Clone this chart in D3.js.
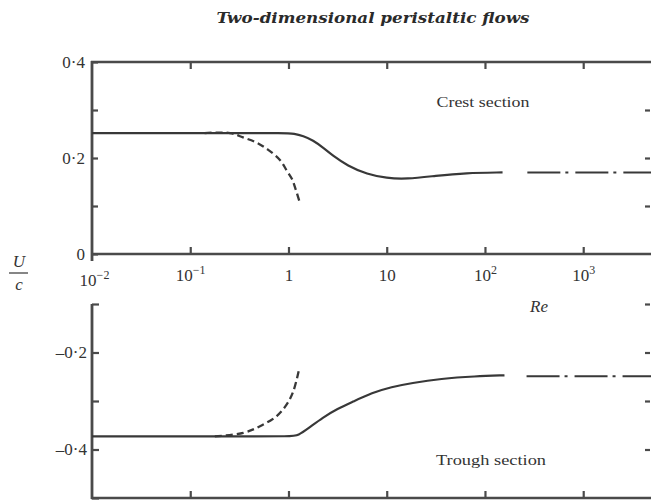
<!DOCTYPE html>
<html>
<head>
<meta charset="utf-8">
<script src="https://cdn.jsdelivr.net/npm/d3@7"></script>
<style>
  html, body { margin: 0; padding: 0; background: #fff; }
  svg { display: block; }
</style>
</head>
<body>
<svg id="chart" width="651" height="501"></svg>
<script>
// Mean velocity U/c against Reynolds number, crest and trough sections.

// Crest section: full solution (solid), low-Re expansion (dashed), high-Re limit (dash-dot)
const crestRe = [0.01, 0.3, 0.9, 1.15, 1.41, 1.78, 2.24, 2.82, 3.98, 6.31, 10.0, 15.8, 31.6, 63.1, 151];
const crestU  = [0.252, 0.252, 0.252, 0.251, 0.246, 0.237, 0.222, 0.205, 0.184, 0.166, 0.158, 0.156, 0.163, 0.169, 0.170];
const crestSmallRe = [0.14, 0.254, 0.344, 0.474, 0.622, 0.818, 0.959, 1.086, 1.191, 1.309];
const crestSmallU  = [0.252, 0.252, 0.243, 0.232, 0.217, 0.196, 0.174, 0.156, 0.133, 0.106];
const crestLimitRe = [270, 4900];
const crestLimitU  = [0.170, 0.170];

// Trough section
const troughRe = [0.01, 0.3, 1.1, 1.25, 1.58, 2.24, 3.16, 4.47, 7.08, 11.2, 17.8, 35.5, 79.4, 158];
const troughU  = [-0.373, -0.373, -0.373, -0.371, -0.357, -0.334, -0.316, -0.302, -0.283, -0.271, -0.263, -0.254, -0.249, -0.247];
const troughSmallRe = [0.178, 0.347, 0.513, 0.759, 0.959, 1.12, 1.29];
const troughSmallU  = [-0.373, -0.3656, -0.352, -0.331, -0.307, -0.280, -0.232];
const troughLimitRe = [265, 4900];
const troughLimitU  = [-0.249, -0.249];

// Axis ticks
const reTicks = [0.01, 0.1, 1, 10, 100, 1000];
const reTickLabels = [["10", "−2"], ["10", "−1"], ["1", ""], ["10", ""], ["10", "2"], ["10", "3"]];
const crestTicks = [0, 0.1, 0.2, 0.3, 0.4];
const crestTickLabels = ["0", "", "0·2", "", "0·4"];
const troughTicks = [-0.5, -0.4, -0.3, -0.2, -0.1];
const troughTickLabels = ["", "–0·4", "", "–0·2", ""];

const svg = d3.select("#chart");
const INK = "#383838";
const AXIS = "#4a4a4a";
const SERIF = "'Liberation Serif', 'Times New Roman', serif";

const x = d3.scaleLog().domain([0.01, Math.pow(10, 3.69)]).range([92, 651]);
const yTop = d3.scaleLinear().domain([0, 0.4]).range([254, 62]);
const yBot = d3.scaleLinear().domain([-0.5, -0.1]).range([498, 304]);

const clip = svg.append("defs").append("clipPath").attr("id", "plotclip");
clip.append("rect").attr("x", 92).attr("y", 40).attr("width", 560).attr("height", 470);

// Title
svg.append("text")
  .attr("x", 373).attr("y", 23)
  .attr("text-anchor", "middle")
  .attr("font-family", "'DejaVu Serif', serif")
  .attr("font-style", "italic").attr("font-weight", "bold")
  .attr("font-size", 15)
  .attr("textLength", 313).attr("lengthAdjust", "spacingAndGlyphs")
  .attr("fill", "#2a2a2a")
  .text("Two-dimensional peristaltic flows");

function styleAxis(g) {
  g.attr("font-family", SERIF);
  g.select(".domain").remove();
  g.selectAll(".tick line").attr("stroke", AXIS).attr("stroke-width", 2.2);
  g.selectAll(".tick text").attr("font-family", SERIF).attr("font-size", 17).attr("fill", "#333");
}

// Frame lines
function hline(y0, x0, x1) {
  svg.append("line").attr("x1", x0).attr("x2", x1).attr("y1", y0).attr("y2", y0)
    .attr("stroke", AXIS).attr("stroke-width", 2.6);
}
function vline(x0, y0, y1) {
  svg.append("line").attr("x1", x0).attr("x2", x0).attr("y1", y0).attr("y2", y1)
    .attr("stroke", AXIS).attr("stroke-width", 2.8);
}
hline(yTop(0.4), 91, 651);
hline(yTop(0), 91, 651);
vline(92, yTop(0.4) - 1, yTop(0) + 7);
hline(yBot(-0.5), 91, 651);
vline(92, yBot(-0.1), yBot(-0.5) + 1);

// Left axes (ticks pointing inward)
svg.append("g").attr("transform", "translate(92,0)")
  .call(d3.axisLeft(yTop).tickValues(crestTicks).tickSizeInner(-6).tickSizeOuter(0).tickPadding(7)
    .tickFormat((d, i) => crestTickLabels[i]))
  .call(styleAxis);
svg.append("g").attr("transform", "translate(92,0)")
  .call(d3.axisLeft(yBot).tickValues(troughTicks).tickSizeInner(-7).tickSizeOuter(0).tickPadding(5)
    .tickFormat((d, i) => troughTickLabels[i]))
  .call(styleAxis);

// Right axes, ticks only
svg.append("g").attr("transform", "translate(650,0)")
  .call(d3.axisRight(yTop).tickValues([0.1, 0.2, 0.3]).tickSizeInner(-5).tickSizeOuter(0).tickFormat(""))
  .call(styleAxis);
svg.append("g").attr("transform", "translate(650,0)")
  .call(d3.axisRight(yBot).tickValues([-0.4, -0.3, -0.2, -0.1]).tickSizeInner(-5).tickSizeOuter(0).tickFormat(""))
  .call(styleAxis);

// Top frame ticks (pointing down)
svg.append("g").attr("transform", `translate(0,${yTop(0.4)})`)
  .call(d3.axisTop(x).tickValues(reTicks.slice(1)).tickSizeInner(-7).tickSizeOuter(0).tickFormat(""))
  .call(styleAxis);

// Re axis with labels under the crest panel (ticks pointing up)
const xAxisG = svg.append("g").attr("transform", `translate(0,${yTop(0)})`)
  .call(d3.axisBottom(x).tickValues(reTicks).tickSizeInner(-7).tickSizeOuter(0).tickPadding(15)
    .tickFormat(() => ""))
  .call(styleAxis);
xAxisG.selectAll(".tick").each(function(d, i) {
  const t = d3.select(this).select("text");
  const lab = reTickLabels[i];
  if (i === 0) t.attr("dy", "1.0em").attr("x", 2);
  t.append("tspan").text(lab[0]);
  if (lab[1]) t.append("tspan").attr("font-size", 12).attr("dy", "-0.55em").text(lab[1]);
});
xAxisG.selectAll(".tick").filter((d, i) => i === 0).select("line").remove();

// Bottom frame ticks for the trough panel
svg.append("g").attr("transform", `translate(0,${yBot(-0.5)})`)
  .call(d3.axisBottom(x).tickValues(reTicks.slice(1)).tickSizeInner(-7).tickSizeOuter(0).tickFormat(""))
  .call(styleAxis);

// Curves
const plot = svg.append("g").attr("clip-path", "url(#plotclip)");
function curve(reArr, uArr, y, dash, width, shape) {
  const pts = reArr.map((r, i) => [r, uArr[i]]);
  plot.append("path")
    .attr("d", d3.line().x(p => x(p[0])).y(p => y(p[1])).curve(shape)(pts))
    .attr("fill", "none").attr("stroke", INK).attr("stroke-width", width)
    .attr("stroke-dasharray", dash).attr("stroke-linecap", "butt");
}
curve(crestRe, crestU, yTop, null, 2.2, d3.curveBasis);
curve(crestSmallRe, crestSmallU, yTop, "7,4", 2.3, d3.curveCatmullRom);
curve(crestLimitRe, crestLimitU, yTop, "33,5,3,7", 2.0, d3.curveLinear);
curve(troughRe, troughU, yBot, null, 2.2, d3.curveBasis);
curve(troughSmallRe, troughSmallU, yBot, "7,4", 2.3, d3.curveCatmullRom);
curve(troughLimitRe, troughLimitU, yBot, "33,5,3,7", 2.0, d3.curveLinear);

// Annotations
function label(txt, cx, by, opts = {}) {
  return svg.append("text").attr("x", cx).attr("y", by).attr("text-anchor", "middle")
    .attr("font-family", SERIF).attr("font-size", opts.size || 15)
    .attr("font-style", opts.italic ? "italic" : "normal")
    .attr("fill", "#333").text(txt);
}
label("Crest section", 483, 107).attr("textLength", 93).attr("lengthAdjust", "spacingAndGlyphs");
label("Trough section", 491, 465).attr("textLength", 110).attr("lengthAdjust", "spacingAndGlyphs");
label("Re", 539, 312, { italic: true, size: 17 });

// U/c ordinate label
label("U", 19, 267, { italic: true, size: 17 });
svg.append("line").attr("x1", 9).attr("x2", 28).attr("y1", 273).attr("y2", 273)
  .attr("stroke", "#444").attr("stroke-width", 1.3);
label("c", 19, 290, { italic: true, size: 17 });
</script>
</body>
</html>
